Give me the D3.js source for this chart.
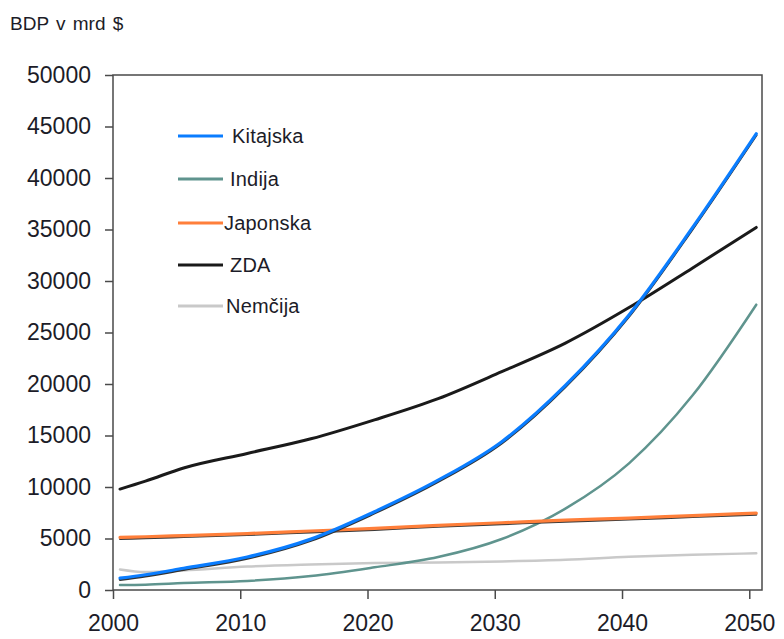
<!DOCTYPE html>
<html>
<head>
<meta charset="utf-8">
<script src="https://cdn.jsdelivr.net/npm/d3@7"></script>
<style>
  html, body { margin: 0; padding: 0; background: #fff; }
  svg { display: block; font-family: "Liberation Sans", Arial, sans-serif; }
</style>
</head>
<body>
<svg id="chart" width="784" height="639"></svg>
<script>
// ---- data ----
const years      = [2000, 2002, 2005, 2010, 2015, 2020, 2025, 2030, 2035, 2040, 2045, 2050];
const kitajska   = [1150, 1480, 2110, 3200, 4940, 7600, 10660, 14400, 19860, 26700, 35200, 44300];
const indija     = [480, 520, 675, 880, 1360, 2200, 3200, 4950, 7900, 12300, 18900, 27700];
const japonska   = [5100, 5170, 5280, 5480, 5730, 5980, 6280, 6530, 6780, 6980, 7230, 7460];
const zda        = [9800, 10570, 11850, 13260, 14680, 16520, 18580, 21200, 23970, 27420, 31270, 35200];
const nemcija    = [2000, 1750, 1900, 2270, 2470, 2610, 2660, 2770, 2930, 3220, 3420, 3560];
const yTicks     = [0, 5000, 10000, 15000, 20000, 25000, 30000, 35000, 40000, 45000, 50000];
const xTicks     = [2000, 2010, 2020, 2030, 2040, 2050];
const seriesNames = ["Kitajska", "Indija", "Japonska", "ZDA", "Nemčija"];
const yTitle = "BDP v mrd $";

// ---- layout / style ----
const svg = d3.select("#chart");
const mLeft = 113, mRight = 762, mTop = 75, mBottom = 590;
const xs = d3.scaleLinear().domain([2000, 2051]).range([mLeft, mRight]);
const ys = d3.scaleLinear().domain([0, 50000]).range([mBottom, mTop]);
const xOff = 0.55; // points sit inside year slot

const textColor = "#1c1c28";
const frameColor = "#4a4a4a";

svg.append("text").attr("x", 10).attr("y", 30)
  .attr("font-size", 19).attr("word-spacing", 2).attr("fill", textColor).text(yTitle);

// frame
svg.append("rect").attr("x", mLeft).attr("y", mTop)
  .attr("width", mRight - mLeft).attr("height", mBottom - mTop)
  .attr("fill", "none").attr("stroke", frameColor).attr("stroke-width", 1.5);

// y axis
const yAxis = svg.append("g").attr("transform", `translate(${mLeft},0)`)
  .call(d3.axisLeft(ys).tickValues(yTicks).tickSize(8).tickPadding(14).tickFormat(d3.format("d")));
yAxis.select(".domain").remove();
yAxis.selectAll(".tick line").attr("stroke", frameColor).attr("stroke-width", 1.5);
yAxis.selectAll(".tick text").attr("font-size", 23).attr("fill", textColor)
  .attr("font-family", "Liberation Sans, Arial, sans-serif");

// x axis
const xAxis = svg.append("g").attr("transform", `translate(0,${mBottom})`)
  .call(d3.axisBottom(xs).tickValues(xTicks).tickSize(9).tickPadding(16).tickFormat(d3.format("d")));
xAxis.select(".domain").remove();
xAxis.selectAll(".tick line").attr("stroke", frameColor).attr("stroke-width", 1.5);
xAxis.selectAll(".tick text").attr("font-size", 23).attr("fill", textColor)
  .attr("font-family", "Liberation Sans, Arial, sans-serif");

// lines
const mk = (vals, dy = 0) => d3.line()
  .x((d, i) => xs(years[i] + xOff))
  .y(d => ys(d) + dy)
  .curve(d3.curveMonotoneX)(vals);

const plot = svg.append("g");
function draw(vals, color, w, dy = 0) {
  plot.append("path").attr("d", mk(vals, dy)).attr("fill", "none")
    .attr("stroke", color).attr("stroke-width", w)
    .attr("stroke-linejoin", "round").attr("stroke-linecap", "round");
}
draw(nemcija, "#c9c9c9", 2.5);
draw(indija, "#5f948e", 2.5);
draw(japonska, "#3a3a3a", 2, 1.5);
draw(japonska, "#ff7f3a", 3.2);
draw(zda, "#1a1a1a", 3);
draw(kitajska, "#333", 2.5, 1.5);
draw(kitajska, "#0a7dff", 3.2);

// legend
const legend = [
  { name: seriesNames[0], color: "#0a7dff", y: 136, tx: 232 },
  { name: seriesNames[1], color: "#5f948e", y: 179, tx: 230 },
  { name: seriesNames[2], color: "#ff7f3a", y: 223, tx: 224 },
  { name: seriesNames[3], color: "#1a1a1a", y: 265, tx: 230 },
  { name: seriesNames[4], color: "#c9c9c9", y: 306, tx: 226 }
];
const lg = svg.append("g");
legend.forEach(e => {
  lg.append("line").attr("x1", 178).attr("x2", 223).attr("y1", e.y).attr("y2", e.y)
    .attr("stroke", e.color).attr("stroke-width", 3.2);
  lg.append("text").attr("x", e.tx).attr("y", e.y).attr("dy", "0.36em")
    .attr("font-size", 20).attr("letter-spacing", 0.2).attr("fill", textColor).text(e.name);
});
</script>
</body>
</html>
